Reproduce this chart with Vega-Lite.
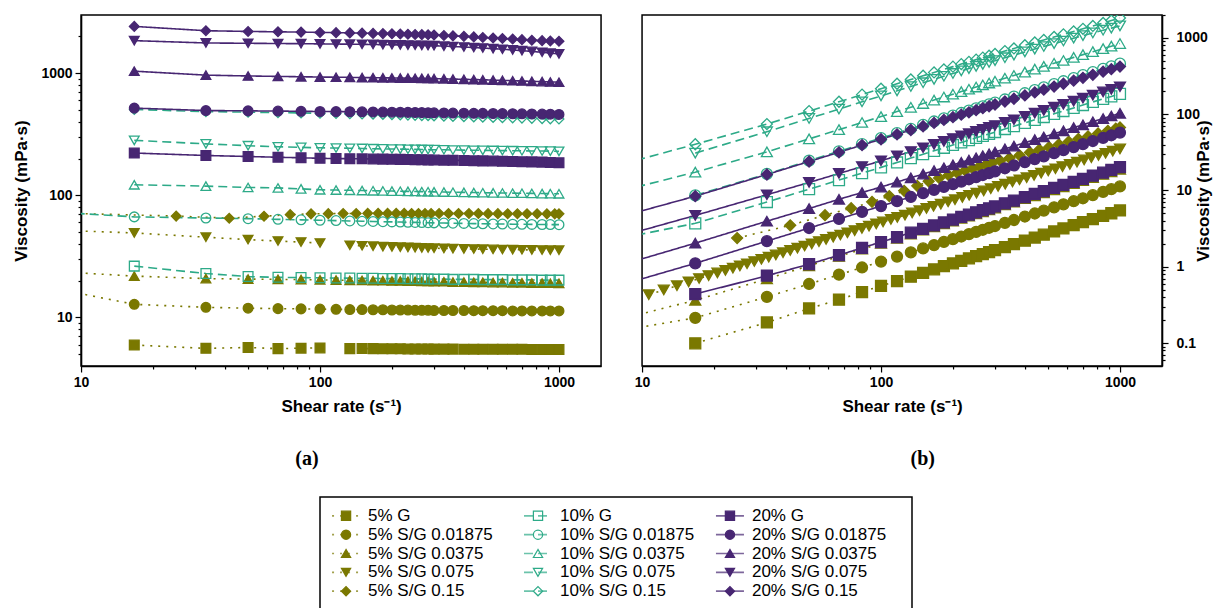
{
"$schema": "https://vega.github.io/schema/vega-lite/v6.json",
"background": "white",
"padding": {"left": 12, "top": 7, "right": 4, "bottom": 0},
"config": {
  "view": {"stroke": "#000", "strokeWidth": 1.5},
  "axis": {"labelFont": "Liberation Sans", "labelFontWeight": "bold", "labelFontSize": 14, "labelColor": "#000", "titleFont": "Liberation Sans", "titleFontWeight": "bold", "titleFontSize": 17, "titleColor": "#000", "domainColor": "#000", "domainWidth": 1.5, "tickColor": "#000", "tickWidth": 1.2, "grid": false, "labelPadding": 3, "labelFlush": false, "labelOverlap": false}
},
"datasets": {
"leg": [
{"g":"5%","k":"G","t":"5% G"},{"g":"10%","k":"G","t":"10% G"},{"g":"20%","k":"G","t":"20% G"},
{"g":"5%","k":"S1","t":"5% S/G 0.01875"},{"g":"10%","k":"S1","t":"10% S/G 0.01875"},{"g":"20%","k":"S1","t":"20% S/G 0.01875"},
{"g":"5%","k":"S2","t":"5% S/G 0.0375"},{"g":"10%","k":"S2","t":"10% S/G 0.0375"},{"g":"20%","k":"S2","t":"20% S/G 0.0375"},
{"g":"5%","k":"S3","t":"5% S/G 0.075"},{"g":"10%","k":"S3","t":"10% S/G 0.075"},{"g":"20%","k":"S3","t":"20% S/G 0.075"},
{"g":"5%","k":"S4","t":"5% S/G 0.15"},{"g":"10%","k":"S4","t":"10% S/G 0.15"},{"g":"20%","k":"S4","t":"20% S/G 0.15"}
],
"d": [
{"g":"5%","k":"G","x":16.7,"a":5.94,"b":0.0992},
{"g":"5%","k":"G","x":33.3,"a":5.58,"b":0.186},
{"g":"5%","k":"G","x":50,"a":5.67,"b":0.284},
{"g":"5%","k":"G","x":66.7,"a":5.55,"b":0.37},
{"g":"5%","k":"G","x":83.3,"a":5.6,"b":0.466},
{"g":"5%","k":"G","x":100,"a":5.62,"b":0.562},
{"g":"5%","k":"G","x":116.7,"a":null,"b":0.648},
{"g":"5%","k":"G","x":133.3,"a":5.55,"b":0.74},
{"g":"5%","k":"G","x":150,"a":5.56,"b":0.834},
{"g":"5%","k":"G","x":166.7,"a":5.55,"b":0.925},
{"g":"5%","k":"G","x":183.3,"a":5.54,"b":1.016},
{"g":"5%","k":"G","x":200,"a":5.53,"b":1.106},
{"g":"5%","k":"G","x":216.7,"a":5.53,"b":1.198},
{"g":"5%","k":"G","x":233.3,"a":5.52,"b":1.288},
{"g":"5%","k":"G","x":250,"a":5.52,"b":1.38},
{"g":"5%","k":"G","x":266.7,"a":5.51,"b":1.47},
{"g":"5%","k":"G","x":283.3,"a":5.51,"b":1.561},
{"g":"5%","k":"G","x":300,"a":5.5,"b":1.65},
{"g":"5%","k":"G","x":330,"a":5.5,"b":1.815},
{"g":"5%","k":"G","x":360,"a":5.5,"b":1.98},
{"g":"5%","k":"G","x":400,"a":5.49,"b":2.196},
{"g":"5%","k":"G","x":440,"a":5.49,"b":2.416},
{"g":"5%","k":"G","x":480,"a":5.49,"b":2.635},
{"g":"5%","k":"G","x":530,"a":5.48,"b":2.904},
{"g":"5%","k":"G","x":580,"a":5.48,"b":3.178},
{"g":"5%","k":"G","x":640,"a":5.48,"b":3.507},
{"g":"5%","k":"G","x":700,"a":5.48,"b":3.836},
{"g":"5%","k":"G","x":770,"a":5.47,"b":4.212},
{"g":"5%","k":"G","x":850,"a":5.47,"b":4.65},
{"g":"5%","k":"G","x":920,"a":5.47,"b":5.032},
{"g":"5%","k":"G","x":1000,"a":5.47,"b":5.47},
{"g":"5%","k":"S1","x":8.3,"a":16.8,"b":0.147},
{"g":"5%","k":"S1","x":16.7,"a":12.8,"b":0.214},
{"g":"5%","k":"S1","x":33.3,"a":12.1,"b":0.403},
{"g":"5%","k":"S1","x":50,"a":11.9,"b":0.595},
{"g":"5%","k":"S1","x":66.7,"a":11.8,"b":0.787},
{"g":"5%","k":"S1","x":83.3,"a":11.75,"b":0.979},
{"g":"5%","k":"S1","x":100,"a":11.7,"b":1.17},
{"g":"5%","k":"S1","x":116.7,"a":11.65,"b":1.36},
{"g":"5%","k":"S1","x":133.3,"a":11.6,"b":1.546},
{"g":"5%","k":"S1","x":150,"a":11.6,"b":1.74},
{"g":"5%","k":"S1","x":166.7,"a":11.55,"b":1.925},
{"g":"5%","k":"S1","x":183.3,"a":11.55,"b":2.117},
{"g":"5%","k":"S1","x":200,"a":11.5,"b":2.3},
{"g":"5%","k":"S1","x":216.7,"a":11.5,"b":2.492},
{"g":"5%","k":"S1","x":233.3,"a":11.5,"b":2.683},
{"g":"5%","k":"S1","x":250,"a":11.45,"b":2.863},
{"g":"5%","k":"S1","x":266.7,"a":11.45,"b":3.054},
{"g":"5%","k":"S1","x":283.3,"a":11.45,"b":3.244},
{"g":"5%","k":"S1","x":300,"a":11.4,"b":3.42},
{"g":"5%","k":"S1","x":330,"a":11.4,"b":3.762},
{"g":"5%","k":"S1","x":360,"a":11.4,"b":4.104},
{"g":"5%","k":"S1","x":400,"a":11.4,"b":4.56},
{"g":"5%","k":"S1","x":440,"a":11.35,"b":4.994},
{"g":"5%","k":"S1","x":480,"a":11.35,"b":5.448},
{"g":"5%","k":"S1","x":530,"a":11.35,"b":6.016},
{"g":"5%","k":"S1","x":580,"a":11.35,"b":6.583},
{"g":"5%","k":"S1","x":640,"a":11.3,"b":7.232},
{"g":"5%","k":"S1","x":700,"a":11.3,"b":7.91},
{"g":"5%","k":"S1","x":770,"a":11.3,"b":8.701},
{"g":"5%","k":"S1","x":850,"a":11.3,"b":9.605},
{"g":"5%","k":"S1","x":920,"a":11.3,"b":10.4},
{"g":"5%","k":"S1","x":1000,"a":11.3,"b":11.3},
{"g":"5%","k":"S2","x":8.3,"a":23.6,"b":0.209},
{"g":"5%","k":"S2","x":16.7,"a":21.8,"b":0.364},
{"g":"5%","k":"S2","x":33.3,"a":20.8,"b":0.693},
{"g":"5%","k":"S2","x":50,"a":20.6,"b":1.03},
{"g":"5%","k":"S2","x":66.7,"a":20.5,"b":1.367},
{"g":"5%","k":"S2","x":83.3,"a":20.4,"b":1.699},
{"g":"5%","k":"S2","x":100,"a":20.3,"b":2.03},
{"g":"5%","k":"S2","x":116.7,"a":20.2,"b":2.357},
{"g":"5%","k":"S2","x":133.3,"a":20.1,"b":2.679},
{"g":"5%","k":"S2","x":150,"a":20.1,"b":3.015},
{"g":"5%","k":"S2","x":166.7,"a":20,"b":3.334},
{"g":"5%","k":"S2","x":183.3,"a":20,"b":3.666},
{"g":"5%","k":"S2","x":200,"a":19.9,"b":3.98},
{"g":"5%","k":"S2","x":216.7,"a":19.9,"b":4.312},
{"g":"5%","k":"S2","x":233.3,"a":19.8,"b":4.619},
{"g":"5%","k":"S2","x":250,"a":19.8,"b":4.95},
{"g":"5%","k":"S2","x":266.7,"a":19.7,"b":5.254},
{"g":"5%","k":"S2","x":283.3,"a":19.7,"b":5.581},
{"g":"5%","k":"S2","x":300,"a":19.6,"b":5.88},
{"g":"5%","k":"S2","x":330,"a":19.6,"b":6.468},
{"g":"5%","k":"S2","x":360,"a":19.5,"b":7.02},
{"g":"5%","k":"S2","x":400,"a":19.5,"b":7.8},
{"g":"5%","k":"S2","x":440,"a":19.4,"b":8.536},
{"g":"5%","k":"S2","x":480,"a":19.4,"b":9.312},
{"g":"5%","k":"S2","x":530,"a":19.3,"b":10.23},
{"g":"5%","k":"S2","x":580,"a":19.3,"b":11.19},
{"g":"5%","k":"S2","x":640,"a":19.2,"b":12.29},
{"g":"5%","k":"S2","x":700,"a":19.2,"b":13.44},
{"g":"5%","k":"S2","x":770,"a":19.1,"b":14.71},
{"g":"5%","k":"S2","x":850,"a":19.1,"b":16.24},
{"g":"5%","k":"S2","x":920,"a":19.05,"b":17.53},
{"g":"5%","k":"S2","x":1000,"a":19,"b":19},
{"g":"5%","k":"S3","x":8.3,"a":51.7},
{"g":"5%","k":"S3","x":16.7,"a":49.2},
{"g":"5%","k":"S3","x":33.3,"a":45.4},
{"g":"5%","k":"S3","x":50,"a":43.4},
{"g":"5%","k":"S3","x":66.7,"a":42.2},
{"g":"5%","k":"S3","x":83.3,"a":41.4},
{"g":"5%","k":"S3","x":100,"a":40.7},
{"g":"5%","k":"S3","x":116.7,"a":null},
{"g":"5%","k":"S3","x":133.3,"a":39.0},
{"g":"5%","k":"S3","x":150,"a":38.6},
{"g":"5%","k":"S3","x":166.7,"a":38.3},
{"g":"5%","k":"S3","x":183.3,"a":38.0},
{"g":"5%","k":"S3","x":200,"a":37.8},
{"g":"5%","k":"S3","x":216.7,"a":37.6},
{"g":"5%","k":"S3","x":233.3,"a":37.4},
{"g":"5%","k":"S3","x":250,"a":37.3},
{"g":"5%","k":"S3","x":266.7,"a":37.1},
{"g":"5%","k":"S3","x":283.3,"a":37.0},
{"g":"5%","k":"S3","x":300,"a":36.9},
{"g":"5%","k":"S3","x":330,"a":36.7},
{"g":"5%","k":"S3","x":360,"a":36.6},
{"g":"5%","k":"S3","x":400,"a":36.4},
{"g":"5%","k":"S3","x":440,"a":36.3},
{"g":"5%","k":"S3","x":480,"a":36.2},
{"g":"5%","k":"S3","x":530,"a":36.1},
{"g":"5%","k":"S3","x":580,"a":36.0},
{"g":"5%","k":"S3","x":640,"a":35.9},
{"g":"5%","k":"S3","x":700,"a":35.8},
{"g":"5%","k":"S3","x":770,"a":35.7},
{"g":"5%","k":"S3","x":850,"a":35.6},
{"g":"5%","k":"S3","x":920,"a":35.55},
{"g":"5%","k":"S3","x":1000,"a":35.5},
{"g":"5%","k":"S3","x":10.67,"b":0.43},
{"g":"5%","k":"S3","x":12.33,"b":0.497},
{"g":"5%","k":"S3","x":14,"b":0.564},
{"g":"5%","k":"S3","x":15.67,"b":0.632},
{"g":"5%","k":"S3","x":17.33,"b":0.701},
{"g":"5%","k":"S3","x":19,"b":0.766},
{"g":"5%","k":"S3","x":20.67,"b":0.831},
{"g":"5%","k":"S3","x":22.33,"b":0.895},
{"g":"5%","k":"S3","x":24,"b":0.96},
{"g":"5%","k":"S3","x":25.67,"b":1.024},
{"g":"5%","k":"S3","x":27.5,"b":1.094},
{"g":"5%","k":"S3","x":29.5,"b":1.171},
{"g":"5%","k":"S3","x":31.6,"b":1.252},
{"g":"5%","k":"S3","x":33.9,"b":1.339},
{"g":"5%","k":"S3","x":36.3,"b":1.431},
{"g":"5%","k":"S3","x":38.9,"b":1.53},
{"g":"5%","k":"S3","x":41.7,"b":1.636},
{"g":"5%","k":"S3","x":44.7,"b":1.749},
{"g":"5%","k":"S3","x":47.9,"b":1.87},
{"g":"5%","k":"S3","x":51.3,"b":1.998},
{"g":"5%","k":"S3","x":55,"b":2.137},
{"g":"5%","k":"S3","x":58.9,"b":2.283},
{"g":"5%","k":"S3","x":63.1,"b":2.439},
{"g":"5%","k":"S3","x":67.6,"b":2.608},
{"g":"5%","k":"S3","x":72.4,"b":2.786},
{"g":"5%","k":"S3","x":77.6,"b":2.98},
{"g":"5%","k":"S3","x":83.2,"b":3.186},
{"g":"5%","k":"S3","x":89.1,"b":3.404},
{"g":"5%","k":"S3","x":95.5,"b":3.639},
{"g":"5%","k":"S3","x":102,"b":3.879},
{"g":"5%","k":"S3","x":110,"b":4.173},
{"g":"5%","k":"S3","x":117,"b":4.428},
{"g":"5%","k":"S3","x":126,"b":4.756},
{"g":"5%","k":"S3","x":135,"b":5.082},
{"g":"5%","k":"S3","x":145,"b":5.446},
{"g":"5%","k":"S3","x":155,"b":5.805},
{"g":"5%","k":"S3","x":166,"b":6.203},
{"g":"5%","k":"S3","x":178,"b":6.636},
{"g":"5%","k":"S3","x":191,"b":7.104},
{"g":"5%","k":"S3","x":204,"b":7.57},
{"g":"5%","k":"S3","x":219,"b":8.106},
{"g":"5%","k":"S3","x":234,"b":8.646},
{"g":"5%","k":"S3","x":251,"b":9.247},
{"g":"5%","k":"S3","x":269,"b":9.888},
{"g":"5%","k":"S3","x":288,"b":10.56},
{"g":"5%","k":"S3","x":309,"b":11.3},
{"g":"5%","k":"S3","x":331,"b":12.08},
{"g":"5%","k":"S3","x":355,"b":12.92},
{"g":"5%","k":"S3","x":380,"b":13.8},
{"g":"5%","k":"S3","x":407,"b":14.75},
{"g":"5%","k":"S3","x":437,"b":15.79},
{"g":"5%","k":"S3","x":468,"b":16.87},
{"g":"5%","k":"S3","x":501,"b":18.01},
{"g":"5%","k":"S3","x":537,"b":19.27},
{"g":"5%","k":"S3","x":575,"b":20.58},
{"g":"5%","k":"S3","x":617,"b":22.03},
{"g":"5%","k":"S3","x":661,"b":23.54},
{"g":"5%","k":"S3","x":708,"b":25.15},
{"g":"5%","k":"S3","x":759,"b":26.9},
{"g":"5%","k":"S3","x":813,"b":28.74},
{"g":"5%","k":"S3","x":871,"b":30.72},
{"g":"5%","k":"S3","x":933,"b":32.83},
{"g":"5%","k":"S3","x":1000,"b":35.1},
{"g":"5%","k":"S4","x":8.3,"a":71.5},
{"g":"5%","k":"S4","x":25,"a":67.6,"b":2.38},
{"g":"5%","k":"S4","x":41.7,"a":65,"b":3.5},
{"g":"5%","k":"S4","x":58.3,"a":67.5,"b":4.75},
{"g":"5%","k":"S4","x":75,"a":69.5,"b":5.85},
{"g":"5%","k":"S4","x":91.7,"a":70.5,"b":7.1},
{"g":"5%","k":"S4","x":108.3,"a":70.8,"b":8.45},
{"g":"5%","k":"S4","x":125,"a":71,"b":9.9},
{"g":"5%","k":"S4","x":141.7,"a":71.1,"b":11.5},
{"g":"5%","k":"S4","x":158.3,"a":71.2,"b":13.2},
{"g":"5%","k":"S4","x":175,"a":71.2,"b":14.6},
{"g":"5%","k":"S4","x":191.7,"a":71.2,"b":15.9},
{"g":"5%","k":"S4","x":208.3,"a":71.2,"b":17.1},
{"g":"5%","k":"S4","x":225,"a":71.2,"b":18.3},
{"g":"5%","k":"S4","x":241.7,"a":71.1,"b":19.5},
{"g":"5%","k":"S4","x":258.3,"a":71.1,"b":20.7},
{"g":"5%","k":"S4","x":275,"a":71.1,"b":21.8},
{"g":"5%","k":"S4","x":291.7,"a":71.1,"b":23},
{"g":"5%","k":"S4","x":315,"a":71,"b":24.6},
{"g":"5%","k":"S4","x":345,"a":71,"b":26.6},
{"g":"5%","k":"S4","x":380,"a":71,"b":28.9},
{"g":"5%","k":"S4","x":420,"a":70.9,"b":31.6},
{"g":"5%","k":"S4","x":460,"a":70.9,"b":34.2},
{"g":"5%","k":"S4","x":505,"a":70.8,"b":37},
{"g":"5%","k":"S4","x":555,"a":70.8,"b":40.2},
{"g":"5%","k":"S4","x":610,"a":70.7,"b":43.6},
{"g":"5%","k":"S4","x":670,"a":70.7,"b":47.4},
{"g":"5%","k":"S4","x":735,"a":70.6,"b":51.3},
{"g":"5%","k":"S4","x":810,"a":70.6,"b":55.9},
{"g":"5%","k":"S4","x":890,"a":70.5,"b":60.6},
{"g":"5%","k":"S4","x":960,"a":70.5,"b":64.8},
{"g":"5%","k":"S4","x":1000,"a":70.5,"b":67.1},
{"g":"10%","k":"G","x":8.3,"b":2.39},
{"g":"10%","k":"G","x":16.7,"a":26.3,"b":3.71},
{"g":"10%","k":"G","x":33.3,"a":22.9,"b":7.06},
{"g":"10%","k":"G","x":50,"a":21.6,"b":10.4},
{"g":"10%","k":"G","x":66.7,"a":21.3,"b":13.7},
{"g":"10%","k":"G","x":83.3,"a":21.2,"b":16.9},
{"g":"10%","k":"G","x":100,"a":21.1,"b":20.1},
{"g":"10%","k":"G","x":116.7,"a":21,"b":23.3},
{"g":"10%","k":"G","x":133.3,"a":21,"b":26.6},
{"g":"10%","k":"G","x":150,"a":20.9,"b":29.9},
{"g":"10%","k":"G","x":166.7,"a":20.9,"b":33.1},
{"g":"10%","k":"G","x":183.3,"a":20.8,"b":36.3},
{"g":"10%","k":"G","x":200,"a":20.8,"b":39.5},
{"g":"10%","k":"G","x":216.7,"a":20.8,"b":42.7},
{"g":"10%","k":"G","x":233.3,"a":20.7,"b":45.8},
{"g":"10%","k":"G","x":250,"a":20.7,"b":49},
{"g":"10%","k":"G","x":266.7,"a":20.7,"b":52.1},
{"g":"10%","k":"G","x":283.3,"a":20.6,"b":55.2},
{"g":"10%","k":"G","x":300,"a":20.6,"b":58.4},
{"g":"10%","k":"G","x":330,"a":20.6,"b":64},
{"g":"10%","k":"G","x":360,"a":20.5,"b":69.7},
{"g":"10%","k":"G","x":400,"a":20.5,"b":77.2},
{"g":"10%","k":"G","x":440,"a":20.5,"b":84.5},
{"g":"10%","k":"G","x":480,"a":20.4,"b":91.9},
{"g":"10%","k":"G","x":530,"a":20.4,"b":101.2},
{"g":"10%","k":"G","x":580,"a":20.4,"b":110.2},
{"g":"10%","k":"G","x":640,"a":20.3,"b":121},
{"g":"10%","k":"G","x":700,"a":20.3,"b":132},
{"g":"10%","k":"G","x":770,"a":20.3,"b":144.8},
{"g":"10%","k":"G","x":850,"a":20.2,"b":159},
{"g":"10%","k":"G","x":920,"a":20.2,"b":171.1},
{"g":"10%","k":"G","x":1000,"a":20.2,"b":185},
{"g":"10%","k":"S1","x":8.3,"a":72.4},
{"g":"10%","k":"S1","x":16.7,"a":66.6,"b":8.65},
{"g":"10%","k":"S1","x":33.3,"a":65.2,"b":16.5},
{"g":"10%","k":"S1","x":50,"a":64.4,"b":24.6},
{"g":"10%","k":"S1","x":66.7,"a":63.6,"b":32.7},
{"g":"10%","k":"S1","x":83.3,"a":63,"b":40.7},
{"g":"10%","k":"S1","x":100,"a":62.5,"b":48.6},
{"g":"10%","k":"S1","x":116.7,"a":62.1,"b":56.6},
{"g":"10%","k":"S1","x":133.3,"a":61.7,"b":64.5},
{"g":"10%","k":"S1","x":150,"a":61.4,"b":72.5},
{"g":"10%","k":"S1","x":166.7,"a":61.1,"b":80.3},
{"g":"10%","k":"S1","x":183.3,"a":60.8,"b":88.2},
{"g":"10%","k":"S1","x":200,"a":60.6,"b":96},
{"g":"10%","k":"S1","x":216.7,"a":60.4,"b":103.8},
{"g":"10%","k":"S1","x":233.3,"a":60.2,"b":111.5},
{"g":"10%","k":"S1","x":250,"a":60,"b":119.3},
{"g":"10%","k":"S1","x":266.7,"a":59.8,"b":126.9},
{"g":"10%","k":"S1","x":283.3,"a":59.7,"b":134.6},
{"g":"10%","k":"S1","x":300,"a":59.5,"b":142.2},
{"g":"10%","k":"S1","x":330,"a":59.3,"b":156.1},
{"g":"10%","k":"S1","x":360,"a":59.1,"b":169.9},
{"g":"10%","k":"S1","x":400,"a":58.9,"b":188.4},
{"g":"10%","k":"S1","x":440,"a":58.7,"b":206.8},
{"g":"10%","k":"S1","x":480,"a":58.5,"b":225.1},
{"g":"10%","k":"S1","x":530,"a":58.3,"b":248},
{"g":"10%","k":"S1","x":580,"a":58.2,"b":270.9},
{"g":"10%","k":"S1","x":640,"a":58,"b":298.2},
{"g":"10%","k":"S1","x":700,"a":57.9,"b":325.5},
{"g":"10%","k":"S1","x":770,"a":57.8,"b":357.3},
{"g":"10%","k":"S1","x":850,"a":57.7,"b":393.6},
{"g":"10%","k":"S1","x":920,"a":57.6,"b":425},
{"g":"10%","k":"S1","x":1000,"a":57.5,"b":460},
{"g":"10%","k":"S2","x":8.3,"b":10},
{"g":"10%","k":"S2","x":16.7,"a":122,"b":17.4},
{"g":"10%","k":"S2","x":33.3,"a":119,"b":32.1},
{"g":"10%","k":"S2","x":50,"a":116,"b":47.5},
{"g":"10%","k":"S2","x":66.7,"a":115,"b":62.8},
{"g":"10%","k":"S2","x":83.3,"a":113,"b":78},
{"g":"10%","k":"S2","x":100,"a":111,"b":93.1},
{"g":"10%","k":"S2","x":116.7,"a":110.5,"b":108.3},
{"g":"10%","k":"S2","x":133.3,"a":110,"b":123.3},
{"g":"10%","k":"S2","x":150,"a":109.5,"b":138.3},
{"g":"10%","k":"S2","x":166.7,"a":109,"b":153.4},
{"g":"10%","k":"S2","x":183.3,"a":108.7,"b":168.3},
{"g":"10%","k":"S2","x":200,"a":108.4,"b":183.2},
{"g":"10%","k":"S2","x":216.7,"a":108.1,"b":198.1},
{"g":"10%","k":"S2","x":233.3,"a":107.8,"b":212.8},
{"g":"10%","k":"S2","x":250,"a":107.5,"b":227.5},
{"g":"10%","k":"S2","x":266.7,"a":107.2,"b":242.2},
{"g":"10%","k":"S2","x":283.3,"a":107,"b":256.7},
{"g":"10%","k":"S2","x":300,"a":106.7,"b":271.2},
{"g":"10%","k":"S2","x":330,"a":106.4,"b":297},
{"g":"10%","k":"S2","x":360,"a":106,"b":322.6},
{"g":"10%","k":"S2","x":400,"a":105.7,"b":356.8},
{"g":"10%","k":"S2","x":440,"a":105.4,"b":390.7},
{"g":"10%","k":"S2","x":480,"a":105.1,"b":424.3},
{"g":"10%","k":"S2","x":530,"a":104.8,"b":465.9},
{"g":"10%","k":"S2","x":580,"a":104.5,"b":506.9},
{"g":"10%","k":"S2","x":640,"a":104.2,"b":556.2},
{"g":"10%","k":"S2","x":700,"a":104,"b":604.8},
{"g":"10%","k":"S2","x":770,"a":103.7,"b":661.4},
{"g":"10%","k":"S2","x":850,"a":103.4,"b":725.9},
{"g":"10%","k":"S2","x":920,"a":103.2,"b":781.1},
{"g":"10%","k":"S2","x":1000,"a":103,"b":845},
{"g":"10%","k":"S3","x":16.7,"a":282,"b":30.9},
{"g":"10%","k":"S3","x":33.3,"a":264,"b":58.9},
{"g":"10%","k":"S3","x":50,"a":255,"b":88},
{"g":"10%","k":"S3","x":66.7,"a":250,"b":116.9},
{"g":"10%","k":"S3","x":83.3,"a":247,"b":145.4},
{"g":"10%","k":"S3","x":100,"a":245,"b":174},
{"g":"10%","k":"S3","x":116.7,"a":244,"b":202.5},
{"g":"10%","k":"S3","x":133.3,"a":243,"b":230.6},
{"g":"10%","k":"S3","x":150,"a":242,"b":258.8},
{"g":"10%","k":"S3","x":166.7,"a":241,"b":286.7},
{"g":"10%","k":"S3","x":183.3,"a":240,"b":314.4},
{"g":"10%","k":"S3","x":200,"a":239.5,"b":342},
{"g":"10%","k":"S3","x":216.7,"a":239,"b":369.5},
{"g":"10%","k":"S3","x":233.3,"a":238.5,"b":396.6},
{"g":"10%","k":"S3","x":250,"a":238,"b":423.8},
{"g":"10%","k":"S3","x":266.7,"a":237.5,"b":450.7},
{"g":"10%","k":"S3","x":283.3,"a":237,"b":477.4},
{"g":"10%","k":"S3","x":300,"a":236.5,"b":504},
{"g":"10%","k":"S3","x":330,"a":236,"b":550.4},
{"g":"10%","k":"S3","x":360,"a":235,"b":596.2},
{"g":"10%","k":"S3","x":400,"a":234.5,"b":656},
{"g":"10%","k":"S3","x":440,"a":234,"b":714.6},
{"g":"10%","k":"S3","x":480,"a":233.5,"b":771.8},
{"g":"10%","k":"S3","x":530,"a":233,"b":842.7},
{"g":"10%","k":"S3","x":580,"a":232.5,"b":911.8},
{"g":"10%","k":"S3","x":640,"a":232,"b":993.3},
{"g":"10%","k":"S3","x":700,"a":231.5,"b":1072.4},
{"g":"10%","k":"S3","x":770,"a":231,"b":1162.7},
{"g":"10%","k":"S3","x":850,"a":230.5,"b":1262.3},
{"g":"10%","k":"S3","x":920,"a":230,"b":1345},
{"g":"10%","k":"S3","x":1000,"a":229,"b":1440},
{"g":"10%","k":"S4","x":8.3,"b":22.3},
{"g":"10%","k":"S4","x":16.7,"a":505,"b":40.4},
{"g":"10%","k":"S4","x":33.3,"a":485,"b":74.3},
{"g":"10%","k":"S4","x":50,"a":480,"b":110},
{"g":"10%","k":"S4","x":66.7,"a":476,"b":145.7},
{"g":"10%","k":"S4","x":83.3,"a":473,"b":180.9},
{"g":"10%","k":"S4","x":100,"a":470,"b":216},
{"g":"10%","k":"S4","x":116.7,"a":468,"b":250.9},
{"g":"10%","k":"S4","x":133.3,"a":466,"b":285.3},
{"g":"10%","k":"S4","x":150,"a":464,"b":319.5},
{"g":"10%","k":"S4","x":166.7,"a":462,"b":353.4},
{"g":"10%","k":"S4","x":183.3,"a":460,"b":387.1},
{"g":"10%","k":"S4","x":200,"a":458,"b":420.8},
{"g":"10%","k":"S4","x":216.7,"a":456,"b":454.2},
{"g":"10%","k":"S4","x":233.3,"a":454,"b":487.1},
{"g":"10%","k":"S4","x":250,"a":452,"b":520},
{"g":"10%","k":"S4","x":266.7,"a":450,"b":552.6},
{"g":"10%","k":"S4","x":283.3,"a":449,"b":584.7},
{"g":"10%","k":"S4","x":300,"a":447,"b":616.8},
{"g":"10%","k":"S4","x":330,"a":445,"b":673.2},
{"g":"10%","k":"S4","x":360,"a":443,"b":729},
{"g":"10%","k":"S4","x":400,"a":441,"b":802},
{"g":"10%","k":"S4","x":440,"a":439,"b":873.4},
{"g":"10%","k":"S4","x":480,"a":437,"b":943.2},
{"g":"10%","k":"S4","x":530,"a":435,"b":1030.9},
{"g":"10%","k":"S4","x":580,"a":433,"b":1116.5},
{"g":"10%","k":"S4","x":640,"a":431,"b":1219.2},
{"g":"10%","k":"S4","x":700,"a":429,"b":1319.5},
{"g":"10%","k":"S4","x":770,"a":427,"b":1436.1},
{"g":"10%","k":"S4","x":850,"a":425,"b":1572.5},
{"g":"10%","k":"S4","x":920,"a":423,"b":1692.8},
{"g":"10%","k":"S4","x":1000,"a":422,"b":1830},
{"g":"20%","k":"G","x":16.7,"a":222,"b":0.439},
{"g":"20%","k":"G","x":33.3,"a":212,"b":0.763},
{"g":"20%","k":"G","x":50,"a":208,"b":1.08},
{"g":"20%","k":"G","x":66.7,"a":205,"b":1.42},
{"g":"20%","k":"G","x":83.3,"a":203,"b":1.77},
{"g":"20%","k":"G","x":100,"a":201,"b":2.11},
{"g":"20%","k":"G","x":116.7,"a":200,"b":2.45},
{"g":"20%","k":"G","x":133.3,"a":199.5,"b":2.8},
{"g":"20%","k":"G","x":150,"a":199,"b":3.14},
{"g":"20%","k":"G","x":166.7,"a":198.5,"b":3.48},
{"g":"20%","k":"G","x":183.3,"a":198,"b":3.81},
{"g":"20%","k":"G","x":200,"a":197.5,"b":4.16},
{"g":"20%","k":"G","x":216.7,"a":197,"b":4.51},
{"g":"20%","k":"G","x":233.3,"a":196.5,"b":4.83},
{"g":"20%","k":"G","x":250,"a":196,"b":5.18},
{"g":"20%","k":"G","x":266.7,"a":195.5,"b":5.52},
{"g":"20%","k":"G","x":283.3,"a":195,"b":5.84},
{"g":"20%","k":"G","x":300,"a":194.5,"b":6.18},
{"g":"20%","k":"G","x":330,"a":194,"b":6.8},
{"g":"20%","k":"G","x":360,"a":193.5,"b":7.38},
{"g":"20%","k":"G","x":400,"a":193,"b":8.2},
{"g":"20%","k":"G","x":440,"a":192,"b":9.02},
{"g":"20%","k":"G","x":480,"a":191.5,"b":9.79},
{"g":"20%","k":"G","x":530,"a":191,"b":10.81},
{"g":"20%","k":"G","x":580,"a":190,"b":11.83},
{"g":"20%","k":"G","x":640,"a":189,"b":12.99},
{"g":"20%","k":"G","x":700,"a":188.5,"b":14.21},
{"g":"20%","k":"G","x":770,"a":188,"b":15.63},
{"g":"20%","k":"G","x":850,"a":187,"b":17.17},
{"g":"20%","k":"G","x":920,"a":186,"b":18.58},
{"g":"20%","k":"G","x":1000,"a":185,"b":20.2},
{"g":"20%","k":"S1","x":8.3,"b":0.587},
{"g":"20%","k":"S1","x":16.7,"a":518,"b":1.11},
{"g":"20%","k":"S1","x":33.3,"a":495,"b":2.17},
{"g":"20%","k":"S1","x":50,"a":492,"b":3.22},
{"g":"20%","k":"S1","x":66.7,"a":490,"b":4.24},
{"g":"20%","k":"S1","x":83.3,"a":488,"b":5.25},
{"g":"20%","k":"S1","x":100,"a":486,"b":6.25},
{"g":"20%","k":"S1","x":116.7,"a":485,"b":7.25},
{"g":"20%","k":"S1","x":133.3,"a":484,"b":8.22},
{"g":"20%","k":"S1","x":150,"a":483,"b":9.21},
{"g":"20%","k":"S1","x":166.7,"a":482,"b":10.19},
{"g":"20%","k":"S1","x":183.3,"a":481,"b":11.14},
{"g":"20%","k":"S1","x":200,"a":480,"b":12.12},
{"g":"20%","k":"S1","x":216.7,"a":479,"b":13.09},
{"g":"20%","k":"S1","x":233.3,"a":478,"b":14.04},
{"g":"20%","k":"S1","x":250,"a":477,"b":15},
{"g":"20%","k":"S1","x":266.7,"a":476,"b":15.95},
{"g":"20%","k":"S1","x":283.3,"a":475,"b":16.91},
{"g":"20%","k":"S1","x":300,"a":474,"b":17.85},
{"g":"20%","k":"S1","x":330,"a":473,"b":19.57},
{"g":"20%","k":"S1","x":360,"a":472,"b":21.28},
{"g":"20%","k":"S1","x":400,"a":471,"b":23.56},
{"g":"20%","k":"S1","x":440,"a":470,"b":25.83},
{"g":"20%","k":"S1","x":480,"a":469,"b":28.08},
{"g":"20%","k":"S1","x":530,"a":468,"b":30.9},
{"g":"20%","k":"S1","x":580,"a":467,"b":33.76},
{"g":"20%","k":"S1","x":640,"a":466,"b":37.12},
{"g":"20%","k":"S1","x":700,"a":465,"b":40.53},
{"g":"20%","k":"S1","x":770,"a":464,"b":44.51},
{"g":"20%","k":"S1","x":850,"a":463,"b":49.05},
{"g":"20%","k":"S1","x":920,"a":462,"b":52.99},
{"g":"20%","k":"S1","x":1000,"a":460,"b":57.5},
{"g":"20%","k":"S2","x":8.3,"b":1.07},
{"g":"20%","k":"S2","x":16.7,"a":1040,"b":2.04},
{"g":"20%","k":"S2","x":33.3,"a":965,"b":3.96},
{"g":"20%","k":"S2","x":50,"a":950,"b":5.8},
{"g":"20%","k":"S2","x":66.7,"a":942,"b":7.67},
{"g":"20%","k":"S2","x":83.3,"a":936,"b":9.41},
{"g":"20%","k":"S2","x":100,"a":931,"b":11.1},
{"g":"20%","k":"S2","x":116.7,"a":928,"b":12.9},
{"g":"20%","k":"S2","x":133.3,"a":925,"b":14.7},
{"g":"20%","k":"S2","x":150,"a":922,"b":16.4},
{"g":"20%","k":"S2","x":166.7,"a":920,"b":18.2},
{"g":"20%","k":"S2","x":183.3,"a":918,"b":19.9},
{"g":"20%","k":"S2","x":200,"a":916,"b":21.7},
{"g":"20%","k":"S2","x":216.7,"a":914,"b":23.4},
{"g":"20%","k":"S2","x":233.3,"a":912,"b":25.1},
{"g":"20%","k":"S2","x":250,"a":910,"b":26.9},
{"g":"20%","k":"S2","x":266.7,"a":908,"b":28.6},
{"g":"20%","k":"S2","x":283.3,"a":906,"b":30.3},
{"g":"20%","k":"S2","x":300,"a":904,"b":32},
{"g":"20%","k":"S2","x":330,"a":900,"b":35.1},
{"g":"20%","k":"S2","x":360,"a":896,"b":38.2},
{"g":"20%","k":"S2","x":400,"a":892,"b":42.3},
{"g":"20%","k":"S2","x":440,"a":888,"b":46.4},
{"g":"20%","k":"S2","x":480,"a":884,"b":50.4},
{"g":"20%","k":"S2","x":530,"a":879,"b":55.5},
{"g":"20%","k":"S2","x":580,"a":874,"b":60.6},
{"g":"20%","k":"S2","x":640,"a":869,"b":66.7},
{"g":"20%","k":"S2","x":700,"a":864,"b":72.8},
{"g":"20%","k":"S2","x":770,"a":859,"b":79.8},
{"g":"20%","k":"S2","x":850,"a":854,"b":87.9},
{"g":"20%","k":"S2","x":920,"a":849,"b":94.9},
{"g":"20%","k":"S2","x":1000,"a":845,"b":103},
{"g":"20%","k":"S3","x":8.3,"b":2.55},
{"g":"20%","k":"S3","x":16.7,"a":1850,"b":4.71},
{"g":"20%","k":"S3","x":33.3,"a":1770,"b":8.79},
{"g":"20%","k":"S3","x":50,"a":1760,"b":12.75},
{"g":"20%","k":"S3","x":66.7,"a":1752,"b":16.7},
{"g":"20%","k":"S3","x":83.3,"a":1746,"b":20.6},
{"g":"20%","k":"S3","x":100,"a":1740,"b":24.5},
{"g":"20%","k":"S3","x":116.7,"a":1735,"b":28.5},
{"g":"20%","k":"S3","x":133.3,"a":1730,"b":32.4},
{"g":"20%","k":"S3","x":150,"a":1725,"b":36.3},
{"g":"20%","k":"S3","x":166.7,"a":1720,"b":40.2},
{"g":"20%","k":"S3","x":183.3,"a":1715,"b":44},
{"g":"20%","k":"S3","x":200,"a":1710,"b":47.9},
{"g":"20%","k":"S3","x":216.7,"a":1705,"b":51.8},
{"g":"20%","k":"S3","x":233.3,"a":1700,"b":55.6},
{"g":"20%","k":"S3","x":250,"a":1695,"b":59.5},
{"g":"20%","k":"S3","x":266.7,"a":1690,"b":63.3},
{"g":"20%","k":"S3","x":283.3,"a":1685,"b":67.1},
{"g":"20%","k":"S3","x":300,"a":1680,"b":71},
{"g":"20%","k":"S3","x":330,"a":1668,"b":77.9},
{"g":"20%","k":"S3","x":360,"a":1656,"b":84.6},
{"g":"20%","k":"S3","x":400,"a":1640,"b":93.8},
{"g":"20%","k":"S3","x":440,"a":1624,"b":103},
{"g":"20%","k":"S3","x":480,"a":1608,"b":112.1},
{"g":"20%","k":"S3","x":530,"a":1590,"b":123.5},
{"g":"20%","k":"S3","x":580,"a":1572,"b":134.9},
{"g":"20%","k":"S3","x":640,"a":1552,"b":148.5},
{"g":"20%","k":"S3","x":700,"a":1532,"b":162.1},
{"g":"20%","k":"S3","x":770,"a":1510,"b":177.9},
{"g":"20%","k":"S3","x":850,"a":1485,"b":195.9},
{"g":"20%","k":"S3","x":920,"a":1462,"b":211.6},
{"g":"20%","k":"S3","x":1000,"a":1440,"b":229},
{"g":"20%","k":"S4","x":8.3,"b":4.62},
{"g":"20%","k":"S4","x":16.7,"a":2420,"b":8.43},
{"g":"20%","k":"S4","x":33.3,"a":2230,"b":16.2},
{"g":"20%","k":"S4","x":50,"a":2200,"b":24},
{"g":"20%","k":"S4","x":66.7,"a":2185,"b":31.7},
{"g":"20%","k":"S4","x":83.3,"a":2172,"b":39.4},
{"g":"20%","k":"S4","x":100,"a":2160,"b":47},
{"g":"20%","k":"S4","x":116.7,"a":2150,"b":54.6},
{"g":"20%","k":"S4","x":133.3,"a":2140,"b":62.1},
{"g":"20%","k":"S4","x":150,"a":2130,"b":69.6},
{"g":"20%","k":"S4","x":166.7,"a":2120,"b":77},
{"g":"20%","k":"S4","x":183.3,"a":2112,"b":84.3},
{"g":"20%","k":"S4","x":200,"a":2104,"b":91.6},
{"g":"20%","k":"S4","x":216.7,"a":2096,"b":98.8},
{"g":"20%","k":"S4","x":233.3,"a":2088,"b":105.9},
{"g":"20%","k":"S4","x":250,"a":2080,"b":113},
{"g":"20%","k":"S4","x":266.7,"a":2072,"b":120},
{"g":"20%","k":"S4","x":283.3,"a":2064,"b":127.2},
{"g":"20%","k":"S4","x":300,"a":2056,"b":134.1},
{"g":"20%","k":"S4","x":330,"a":2040,"b":146.9},
{"g":"20%","k":"S4","x":360,"a":2025,"b":159.5},
{"g":"20%","k":"S4","x":400,"a":2005,"b":176.4},
{"g":"20%","k":"S4","x":440,"a":1985,"b":193.2},
{"g":"20%","k":"S4","x":480,"a":1965,"b":209.8},
{"g":"20%","k":"S4","x":530,"a":1945,"b":230.6},
{"g":"20%","k":"S4","x":580,"a":1925,"b":251.1},
{"g":"20%","k":"S4","x":640,"a":1905,"b":275.8},
{"g":"20%","k":"S4","x":700,"a":1885,"b":300.3},
{"g":"20%","k":"S4","x":770,"a":1865,"b":328.8},
{"g":"20%","k":"S4","x":850,"a":1850,"b":361.3},
{"g":"20%","k":"S4","x":920,"a":1840,"b":389.2},
{"g":"20%","k":"S4","x":1000,"a":1830,"b":422}
]
},
"vconcat": [
{
"hconcat": [
{
"width": 520, "height": 351,
"data": {"name": "d"},
"transform": [{"filter": "isDefined(datum.a)"}],
"title": {"text": "(a)", "orient": "bottom", "frame": "bounds", "anchor": "middle", "offset": 35, "font": "Liberation Serif", "fontSize": 20, "fontWeight": "bold", "color": "#000"},
"encoding": {
  "x": {"field": "x", "type": "quantitative", "scale": {"type": "log", "domain": [10, 1500], "nice": false},
    "axis": {"title": "Shear rate (s⁻¹)", "values": [10,20,30,40,50,60,70,80,90,100,200,300,400,500,600,700,800,900,1000], "labelExpr": "datum.value==10||datum.value==100||datum.value==1000?format(datum.value,'d'):''", "tickSize": {"condition": {"test": "datum.value==10||datum.value==100||datum.value==1000", "value": 6}, "value": 3}, "titlePadding": 9}},
  "y": {"field": "a", "type": "quantitative", "scale": {"type": "log", "domain": [4, 3000], "nice": false},
    "axis": {"title": "Viscosity (mPa·s)", "values": [5,6,7,8,9,10,20,30,40,50,60,70,80,90,100,200,300,400,500,600,700,800,900,1000,2000], "labelExpr": "datum.value==10||datum.value==100||datum.value==1000?format(datum.value,'d'):''", "tickSize": {"condition": {"test": "datum.value==10||datum.value==100||datum.value==1000", "value": 6}, "value": 3}, "titlePadding": 10}}
},
"layer": [
  {"mark": {"type": "line", "clip": true, "strokeWidth": 1.6, "invalid": "break-paths-filter-domains"},
   "encoding": {
     "stroke": {"field": "g", "type": "nominal", "scale": {"domain": ["5%","10%","20%"], "range": ["#7a7800","#2daa88","#472672"]}, "legend": null},
     "strokeDash": {"field": "g", "type": "nominal", "scale": {"domain": ["5%","10%","20%"], "range": [[2,6],[9,5],[1,0]]}, "legend": null},
     "detail": {"field": "k"}}},
  {"mark": {"type": "point", "clip": true, "filled": true, "size": 95, "strokeWidth": 1.3, "opacity": 1},
   "encoding": {
     "shape": {"field": "k", "type": "nominal", "scale": {"domain": ["G","S1","S2","S3","S4"], "range": ["square","circle","triangle-up","triangle-down","diamond"]}, "legend": null},
     "fill": {"field": "g", "type": "nominal", "scale": {"domain": ["5%","10%","20%"], "range": ["#7a7800","transparent","#472672"]}, "legend": null},
     "stroke": {"field": "g", "type": "nominal", "scale": {"domain": ["5%","10%","20%"], "range": ["#7a7800","#2daa88","#472672"]}, "legend": null}}}
]
},
{
"width": 520, "height": 351,
"data": {"name": "d"},
"transform": [{"filter": "isDefined(datum.b)"}],
"title": {"text": "(b)", "orient": "bottom", "frame": "bounds", "anchor": "middle", "offset": 35, "font": "Liberation Serif", "fontSize": 20, "fontWeight": "bold", "color": "#000"},
"encoding": {
  "x": {"field": "x", "type": "quantitative", "scale": {"type": "log", "domain": [10, 1500], "nice": false},
    "axis": {"title": "Shear rate (s⁻¹)", "values": [10,20,30,40,50,60,70,80,90,100,200,300,400,500,600,700,800,900,1000], "labelExpr": "datum.value==10||datum.value==100||datum.value==1000?format(datum.value,'d'):''", "tickSize": {"condition": {"test": "datum.value==10||datum.value==100||datum.value==1000", "value": 6}, "value": 3}, "titlePadding": 9}},
  "y": {"field": "b", "type": "quantitative", "scale": {"type": "log", "domain": [0.05, 2000], "nice": false},
    "axis": {"orient": "right", "title": "Viscosity (mPa·s)", "titleAngle": 270, "values": [0.06,0.07,0.08,0.09,0.1,0.2,0.3,0.4,0.5,0.6,0.7,0.8,0.9,1,2,3,4,5,6,7,8,9,10,20,30,40,50,60,70,80,90,100,200,300,400,500,600,700,800,900,1000,2000], "labelExpr": "datum.value==0.1?'0.1':(datum.value==1||datum.value==10||datum.value==100||datum.value==1000)?format(datum.value,'d'):''", "tickSize": {"condition": {"test": "datum.value==0.1||datum.value==1||datum.value==10||datum.value==100||datum.value==1000", "value": 6}, "value": 3}, "labelPadding": 8, "titlePadding": 5}}
},
"layer": [
  {"mark": {"type": "line", "clip": true, "strokeWidth": 1.6, "invalid": "break-paths-filter-domains"},
   "encoding": {
     "stroke": {"field": "g", "type": "nominal", "scale": {"domain": ["5%","10%","20%"], "range": ["#7a7800","#2daa88","#472672"]}, "legend": null},
     "strokeDash": {"field": "g", "type": "nominal", "scale": {"domain": ["5%","10%","20%"], "range": [[2,6],[9,5],[1,0]]}, "legend": null},
     "detail": {"field": "k"}}},
  {"mark": {"type": "point", "clip": true, "filled": true, "size": 120, "strokeWidth": 1.3, "opacity": 1},
   "encoding": {
     "shape": {"field": "k", "type": "nominal", "scale": {"domain": ["G","S1","S2","S3","S4"], "range": ["square","circle","triangle-up","triangle-down","diamond"]}, "legend": null},
     "fill": {"field": "g", "type": "nominal", "scale": {"domain": ["5%","10%","20%"], "range": ["#7a7800","transparent","#472672"]}, "legend": null},
     "stroke": {"field": "g", "type": "nominal", "scale": {"domain": ["5%","10%","20%"], "range": ["#7a7800","#2daa88","#472672"]}, "legend": null}}}
]
}
],
"spacing": 31
},
{
"hconcat": [
{
"width": 592, "height": 113,
"data": {"name": "leg"},
"encoding": {
  "x": {"field": "g", "type": "nominal", "scale": {"type": "point", "domain": ["5%","10%","20%"], "padding": 0.542}, "axis": null},
  "y": {"field": "k", "type": "nominal", "scale": {"type": "point", "domain": ["G","S1","S2","S3","S4"], "padding": 1.18}, "axis": null}
},
"layer": [
  {"mark": {"type": "point", "shape": "M-1,0L1,0", "size": 784, "strokeWidth": 1.6, "filled": false, "xOffset": -78},
   "encoding": {
     "stroke": {"field": "g", "type": "nominal", "scale": {"domain": ["5%","10%","20%"], "range": ["#7a7800","#2daa88","#472672"]}, "legend": null},
     "strokeDash": {"field": "g", "type": "nominal", "scale": {"domain": ["5%","10%","20%"], "range": [[2,6],[9,5],[1,0]]}, "legend": null}}},
  {"mark": {"type": "point", "filled": true, "size": 85, "strokeWidth": 1.2, "opacity": 1, "xOffset": -78},
   "encoding": {
     "shape": {"field": "k", "type": "nominal", "scale": {"domain": ["G","S1","S2","S3","S4"], "range": ["square","circle","triangle-up","triangle-down","diamond"]}, "legend": null},
     "fill": {"field": "g", "type": "nominal", "scale": {"domain": ["5%","10%","20%"], "range": ["#7a7800","transparent","#472672"]}, "legend": null},
     "stroke": {"field": "g", "type": "nominal", "scale": {"domain": ["5%","10%","20%"], "range": ["#7a7800","#2daa88","#472672"]}, "legend": null}}},
  {"mark": {"type": "text", "align": "left", "baseline": "middle", "dx": -56, "font": "Liberation Sans", "fontSize": 17, "color": "#000"},
   "encoding": {"text": {"field": "t"}}}
]
},
{
"width": 40, "height": 113,
"data": {"values": [{}]},
"mark": {"type": "point", "opacity": 0},
"view": {"stroke": null}
}
],
"spacing": 20
}
],
"spacing": 26,
"center": true
}
